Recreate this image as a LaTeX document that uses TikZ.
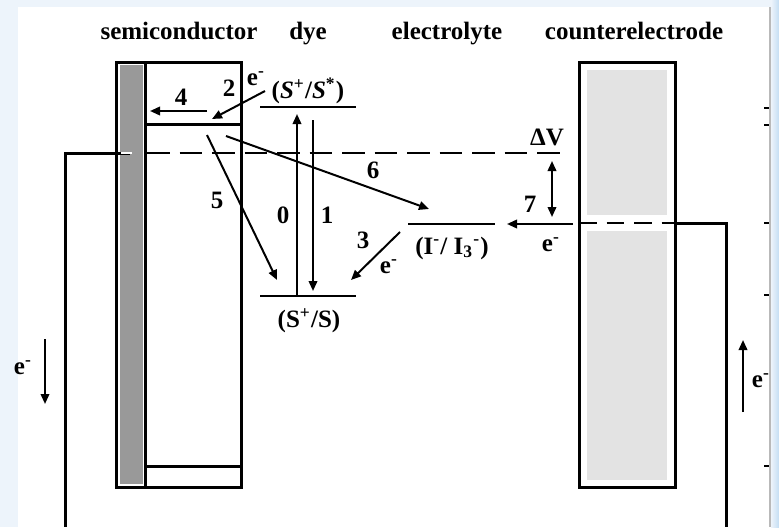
\documentclass[tikz,border=0pt]{standalone}
\usepackage{fontspec}
\setmainfont{Liberation Serif}
\usetikzlibrary{arrows.meta}
\definecolor{bgleft}{RGB}{237,244,251}
\definecolor{bgright}{RGB}{196,221,243}
\definecolor{semigray}{RGB}{153,153,153}
\definecolor{cegray}{RGB}{227,227,227}
\tikzset{
	box/.style={line width=1.2pt},
	lvl/.style={line width=1.1pt},
	gap/.style={line width=1.1pt, dash pattern=on 9pt off 4pt},
	flow/.style={line width=0.8pt, -{Triangle[length=4pt, width=3.4pt]}},
	lbl/.style={font=\bfseries, inner sep=0pt},
	head/.style={lbl, anchor=base},
}
\newcommand{\elec}{e\textsuperscript{-}}
\begin{document}
\begin{tikzpicture}[x=0.4pt, y=-0.4pt]
	% Background and frame:
	\useasboundingbox (0,0) rectangle (779,527);
	\fill[bgleft] (0,0) rectangle (779,527);
	\fill[white] (18,7) rectangle (770,527);
	\shade[left color=bgleft, right color=bgright] (771,0) rectangle (779,527);
	\draw[gray!55, line width=0.8pt] (770,7) -- (770,527);
	\foreach \y in {108,125,223,295,466}
		\draw[line width=1.1pt] (764,\y) -- (769,\y);
	% Headers:
	\node[head] (hsemi) at (179,39) {semiconductor};
	\node[head] (hdye) at (308,39) {dye};
	\node[head] (helec) at (447,39) {electrolyte};
	\node[head] (hce) at (634,39) {counterelectrode};
	% Semiconductor:
	\fill[semigray] (120,65) rectangle (143,484);
	\draw[box] (116,62) rectangle (241,487);
	\draw[box] (145,62) -- (145,487);
	\draw[box] (145,124) -- (241,124);
	\draw[box] (145,466) -- (241,466);
	% Counterelectrode:
	\fill[cegray] (587,70) rectangle (667,215);
	\fill[cegray] (587,231) rectangle (667,480);
	\draw[box] (579,62) rectangle (675,487);
	% Fermi level and wires:
	\coordinate (fl) at (147,153);
	\coordinate (fr) at (565,153);
	\coordinate (wl) at (65,153);
	\coordinate (wlb) at (65,527);
	\coordinate (cl) at (579,223);
	\coordinate (cr) at (675,223);
	\coordinate (wr) at (726,223);
	\coordinate (wrb) at (726,527);
	\draw[gap] (fl) -- (fr);
	\draw[box] (130,153) -- (wl) -- (wlb);
	\draw[white, line width=1pt] (121,153) -- (132,153);
	\draw[gap, dash pattern=on 7pt off 4pt] (cl) -- (cr);
	\draw[box] (cr) -- (wr) -- (wrb);
	% Levels:
	\coordinate (sxl) at (260,107);
	\coordinate (sxr) at (356,107);
	\coordinate (sgl) at (260,296);
	\coordinate (sgr) at (356,296);
	\coordinate (redl) at (408,224);
	\coordinate (redr) at (495,224);
	\draw[lvl] (sxl) -- (sxr);
	\draw[lvl] (sgl) -- (sgr);
	\draw[lvl] (redl) -- (redr);
	\node[lbl] (sx) at (308,91) {(\textit{S}\textsuperscript{+}/\textit{S}\textsuperscript{*})};
	\node[lbl] (sg) at (309,321) {(S\textsuperscript{+}/S)};
	\node[lbl] (red) at (452,248) {(I\textsuperscript{-}/ I\textsubscript{3}\textsuperscript{-})};
	% Processes:
	\coordinate (a0s) at (297,296);
	\coordinate (a0e) at (297,114);
	\coordinate (a1s) at (313,120);
	\coordinate (a1e) at (313,291);
	\coordinate (a2s) at (265,91);
	\coordinate (a2e) at (212,119);
	\coordinate (a4s) at (207,111);
	\coordinate (a4e) at (150,111);
	\coordinate (a5s) at (207,135);
	\coordinate (a5e) at (277,280);
	\coordinate (a6s) at (226,136);
	\coordinate (a6e) at (429,209);
	\coordinate (a3s) at (400,232);
	\coordinate (a3e) at (351,280);
	\coordinate (a7s) at (573,224);
	\coordinate (a7e) at (507,224);
	\coordinate (dvt) at (552,161);
	\coordinate (dvb) at (552,217);
	\coordinate (el1) at (45,339);
	\coordinate (el2) at (45,404);
	\coordinate (er1) at (743,412);
	\coordinate (er2) at (743,340);
	\draw[flow] (a0s) -- (a0e);
	\draw[flow] (a1s) -- (a1e);
	\draw[flow] (a2s) -- (a2e);
	\draw[flow] (a4s) -- (a4e);
	\draw[flow] (a5s) -- (a5e);
	\draw[flow] (a6s) -- (a6e);
	\draw[flow] (a3s) -- (a3e);
	\draw[flow] (a7s) -- (a7e);
	\draw[flow, {Triangle[length=4pt, width=3.4pt]}-{Triangle[length=4pt, width=3.4pt]}] (dvt) -- (dvb);
	\draw[flow] (el1) -- (el2);
	\draw[flow] (er1) -- (er2);
	\node[lbl] (n0) at (283,215) {0};
	\node[lbl] (n1) at (327,215) {1};
	\node[lbl] (n2) at (229,88) {2};
	\node[lbl] (n3) at (363,240) {3};
	\node[lbl] (n4) at (181,97) {4};
	\node[lbl] (n5) at (217,200) {5};
	\node[lbl] (n6) at (373,170) {6};
	\node[lbl] (n7) at (530,204) {7};
	\node[lbl] (dv) at (547,137) {ΔV};
	\node[lbl] (e2) at (256,79) {\elec};
	\node[lbl] (e3) at (389,267) {\elec};
	\node[lbl] (e7) at (551,245) {\elec};
	\node[lbl] (el) at (23,368) {\elec};
	\node[lbl] (er) at (761,381) {\elec};
\end{tikzpicture}
\end{document}
